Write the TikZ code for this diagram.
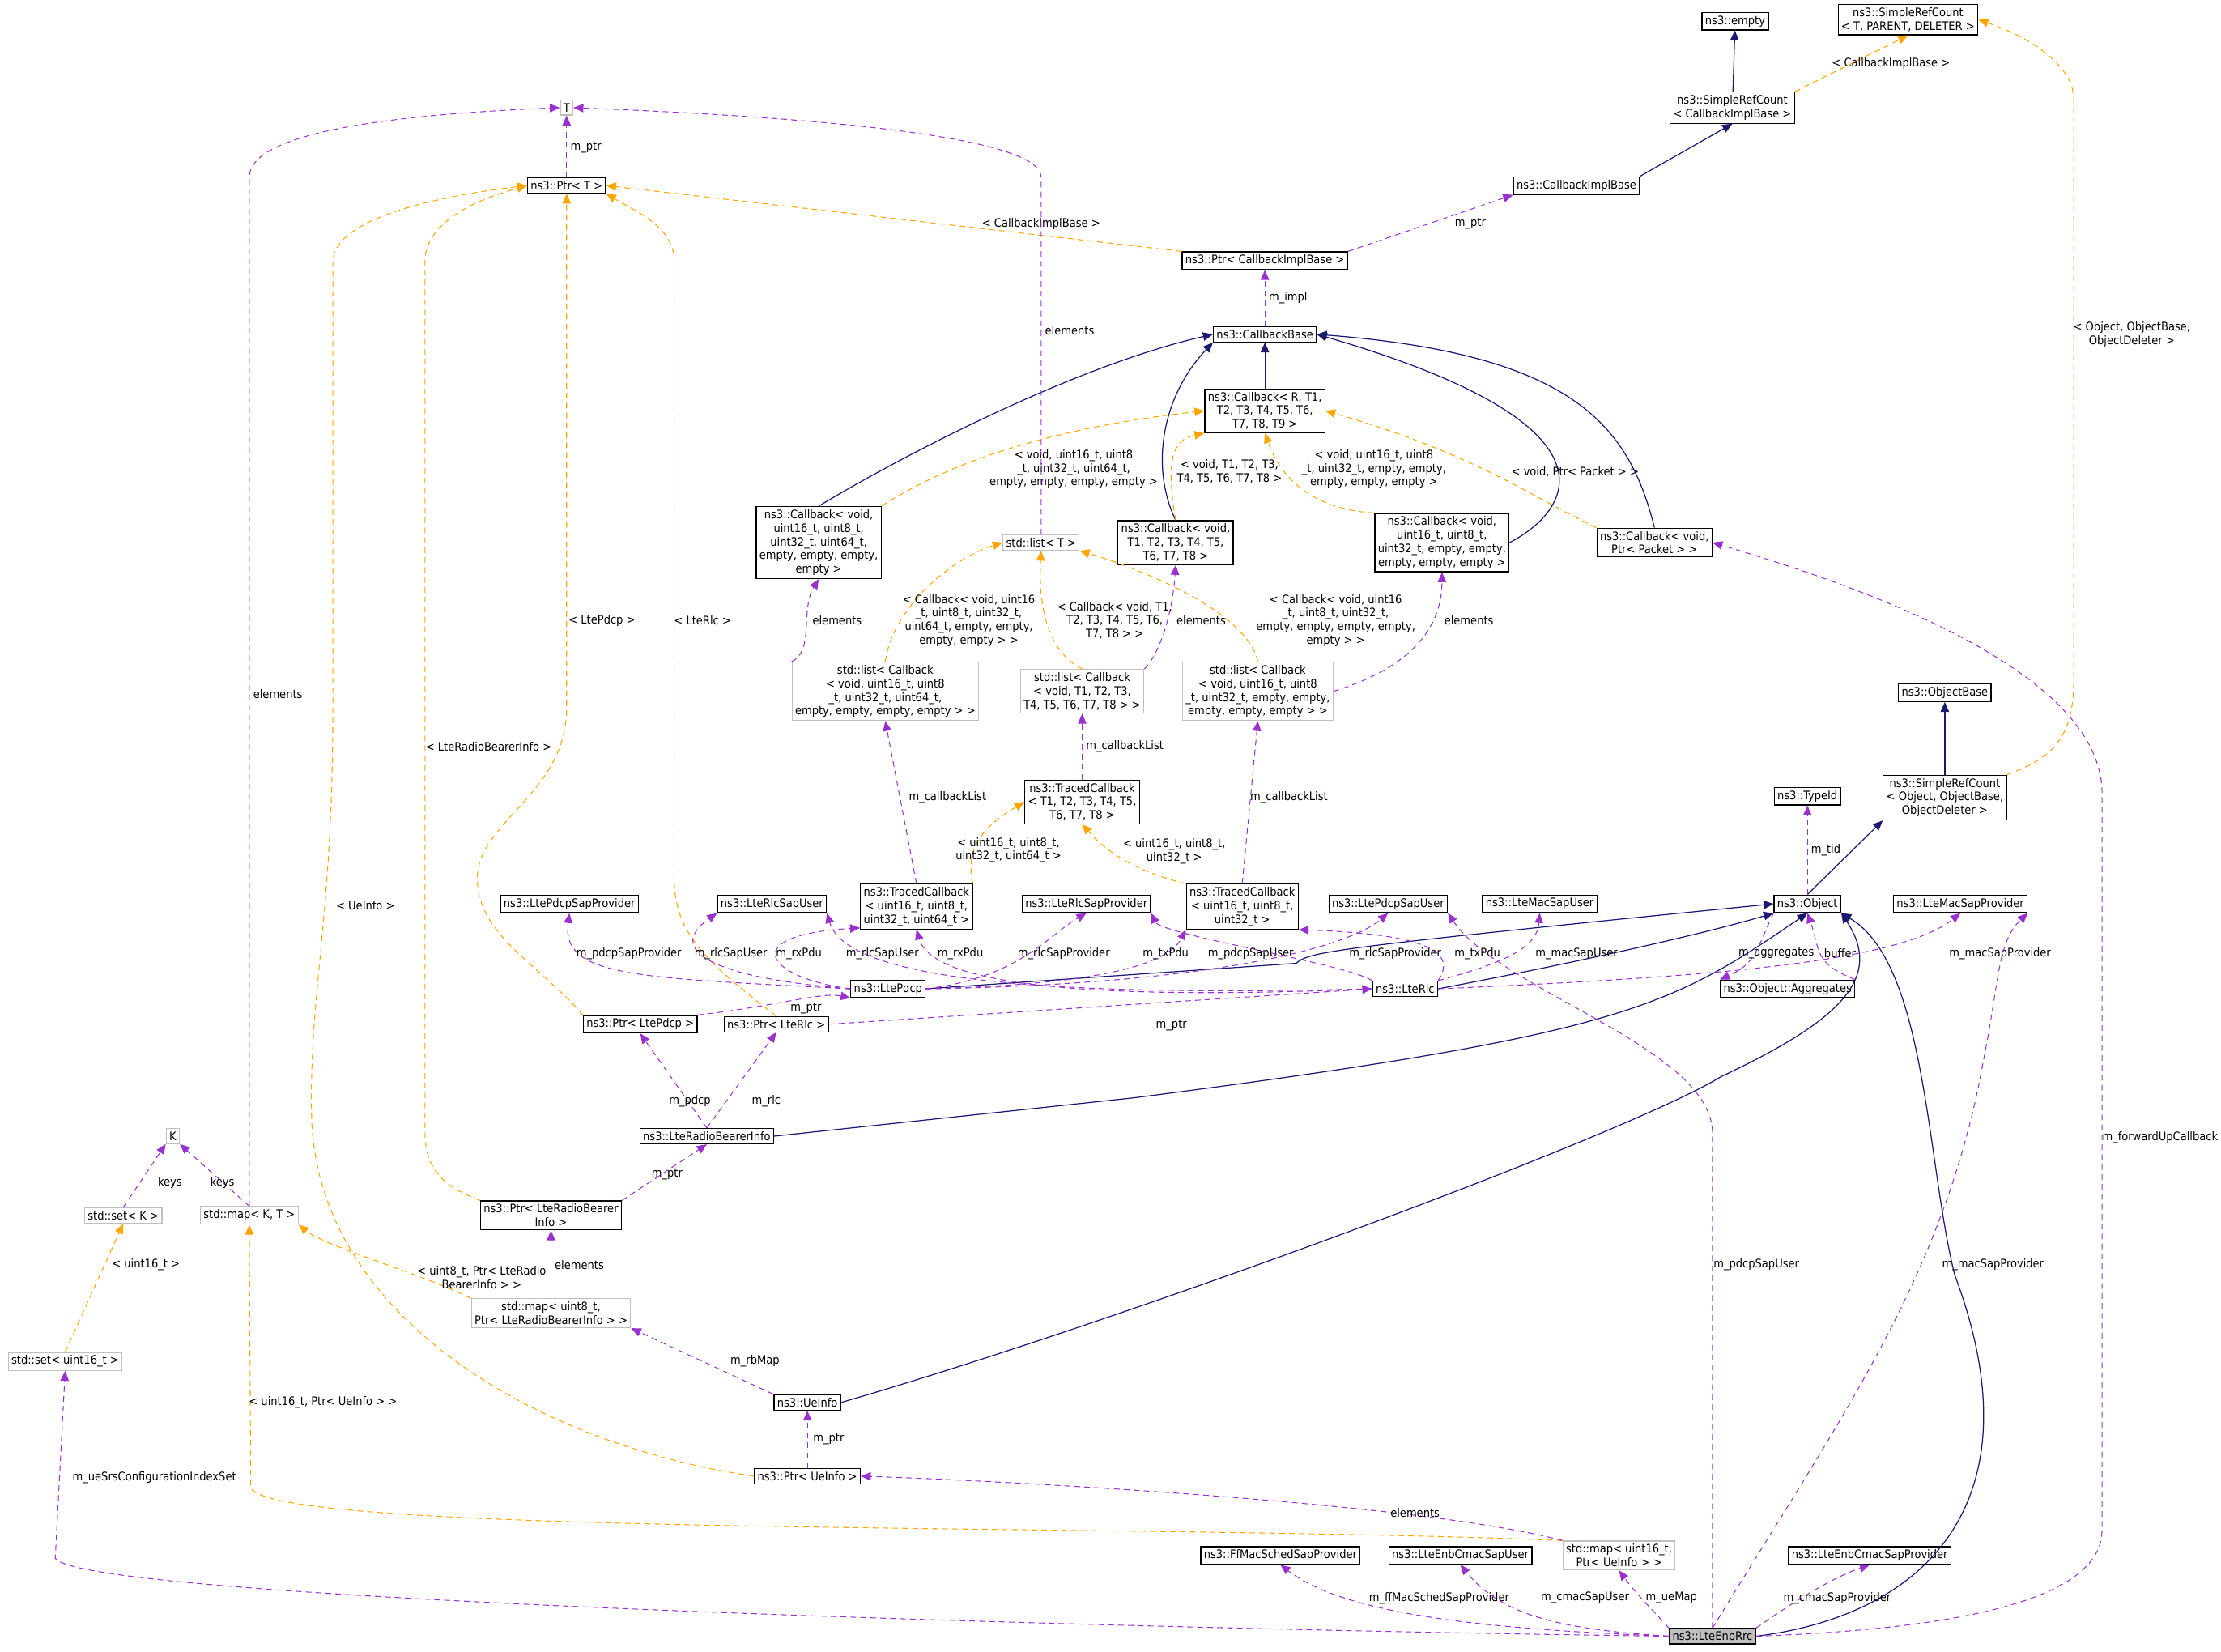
\documentclass[tikz,border=0pt]{standalone}
\usepackage{fontspec}
\setmainfont{DejaVu Sans Condensed}
\usetikzlibrary{arrows.meta}
\definecolor{navy}{RGB}{25,25,112}
\definecolor{ora}{RGB}{255,165,0}
\definecolor{pur}{RGB}{153,50,204}
\definecolor{gb}{RGB}{191,191,191}
\begin{document}
\begin{tikzpicture}[x=1pt,y=-1pt, font=\fontsize{8.3}{9.6}\selectfont,
 box/.style={draw=black, fill=white, inner sep=2.2pt, align=center, line width=0.7pt},
 gbox/.style={box, draw=gb},
 inh/.style={draw=navy, line width=0.7pt, -{Triangle[length=7pt,width=6pt]}},
 tpl/.style={draw=ora, dash pattern=on 4pt off 3pt, line width=0.6pt, -{Triangle[length=7pt,width=6pt]}},
 use/.style={draw=pur, dash pattern=on 4pt off 3pt, line width=0.6pt, -{Triangle[length=7pt,width=6pt]}},
 lbl/.style={inner sep=0.5pt, align=center}]
\useasboundingbox (0,0) rectangle (1568,1166);
% nodes
\node[gbox] (T) at (400,76) {T};
\node[box] (ptrT) at (400,131) {ns3::Ptr< T >};
\node[box] (empty) at (1225,15) {ns3::empty};
\node[box] (srcT) at (1347,14) {ns3::SimpleRefCount\\< T, PARENT, DELETER >};
\node[box] (srcCIB) at (1223,76) {ns3::SimpleRefCount\\< CallbackImplBase >};
\node[box] (cib) at (1113,131) {ns3::CallbackImplBase};
\node[box] (ptrCIB) at (893,184) {ns3::Ptr< CallbackImplBase >};
\node[box] (cbBase) at (893,236) {ns3::CallbackBase};
\node[box] (cbR) at (893,290) {ns3::Callback< R, T1,\\T2, T3, T4, T5, T6,\\T7, T8, T9 >};
\node[box] (cb64) at (578,383) {ns3::Callback< void,\\uint16\_t, uint8\_t,\\uint32\_t, uint64\_t,\\empty, empty, empty,\\empty >};
\node[gbox] (listT) at (735,383) {std::list< T >};
\node[box] (cbT1) at (830,383) {ns3::Callback< void,\\T1, T2, T3, T4, T5,\\T6, T7, T8 >};
\node[box] (cb32) at (1018,383) {ns3::Callback< void,\\uint16\_t, uint8\_t,\\uint32\_t, empty, empty,\\empty, empty, empty >};
\node[box] (cbPkt) at (1168,383) {ns3::Callback< void,\\Ptr< Packet > >};
\node[gbox] (list64) at (625,488) {std::list< Callback\\< void, uint16\_t, uint8\\\_t, uint32\_t, uint64\_t,\\empty, empty, empty, empty > >};
\node[gbox] (listT1) at (764,488) {std::list< Callback\\< void, T1, T2, T3,\\T4, T5, T6, T7, T8 > >};
\node[gbox] (list32) at (888,488) {std::list< Callback\\< void, uint16\_t, uint8\\\_t, uint32\_t, empty, empty,\\empty, empty, empty > >};
\node[box] (tcT) at (764,566) {ns3::TracedCallback\\< T1, T2, T3, T4, T5,\\T6, T7, T8 >};
\node[box] (tc64) at (647,640) {ns3::TracedCallback\\< uint16\_t, uint8\_t,\\uint32\_t, uint64\_t >};
\node[box] (tc32) at (877,640) {ns3::TracedCallback\\< uint16\_t, uint8\_t,\\uint32\_t >};
\node[box] (pdcpSP) at (402,638) {ns3::LtePdcpSapProvider};
\node[box] (rlcSU) at (545,638) {ns3::LteRlcSapUser};
\node[box] (rlcSP) at (767,638) {ns3::LteRlcSapProvider};
\node[box] (pdcpSU) at (980,638) {ns3::LtePdcpSapUser};
\node[box] (macSU) at (1087,638) {ns3::LteMacSapUser};
\node[box] (obj) at (1276,638) {ns3::Object};
\node[box] (macSP) at (1384,638) {ns3::LteMacSapProvider};
\node[box] (typeid) at (1276,562) {ns3::TypeId};
\node[box] (objBase) at (1373,489) {ns3::ObjectBase};
\node[box] (srcObj) at (1373,563) {ns3::SimpleRefCount\\< Object, ObjectBase,\\ObjectDeleter >};
\node[box] (pdcp) at (627,698) {ns3::LtePdcp};
\node[box] (rlc) at (992,698) {ns3::LteRlc};
\node[box] (aggr) at (1262,698) {ns3::Object::Aggregates};
\node[box] (ptrPdcp) at (452,723) {ns3::Ptr< LtePdcp >};
\node[box] (ptrRlc) at (548,723) {ns3::Ptr< LteRlc >};
\node[box] (rbi) at (499,802) {ns3::LteRadioBearerInfo};
\node[box] (ptrRbi) at (389,858) {ns3::Ptr< LteRadioBearer\\Info >};
\node[gbox] (K) at (122,802) {K};
\node[gbox] (setK) at (87,858) {std::set< K >};
\node[gbox] (mapKT) at (176,858) {std::map< K, T >};
\node[gbox] (map8) at (389,927) {std::map< uint8\_t,\\Ptr< LteRadioBearerInfo > >};
\node[gbox] (set16) at (46,961) {std::set< uint16\_t >};
\node[box] (ueinfo) at (570,990) {ns3::UeInfo};
\node[box] (ptrUe) at (570,1042) {ns3::Ptr< UeInfo >};
\node[gbox] (map16) at (1143,1098) {std::map< uint16\_t,\\Ptr< UeInfo > >};
\node[box] (ffmac) at (904,1098) {ns3::FfMacSchedSapProvider};
\node[box] (cmacU) at (1031,1098) {ns3::LteEnbCmacSapUser};
\node[box] (cmacP) at (1320,1098) {ns3::LteEnbCmacSapProvider};
\node[box, fill=gb] (rrc) at (1209,1155) {ns3::LteEnbRrc};

% inheritance
\draw[inh] (srcCIB) -- (empty);
\draw[inh] (cib.north east) -- (srcCIB.south);
\draw[inh] (cbR) -- (cbBase);
\draw[inh] (cb64.north) .. controls (640,320) and (760,258) .. (cbBase.west);
\draw[inh] (cbT1.north) .. controls (812,330) and (820,280) .. (cbBase.south west);
\draw[inh] (cb32.east) .. controls (1110,360) and (1150,300) .. (cbBase.east);
\draw[inh] (cbPkt.north) .. controls (1150,300) and (1110,250) .. (cbBase.east);
\draw[inh] (srcObj) -- (objBase);
\draw[inh] (obj.north) -- (srcObj.south west);
\draw[inh] (pdcp.east) -- (915,680) .. controls (925,672) and (930,670) .. (obj.west);
\draw[inh] (rlc.east) .. controls (1110,680) and (1200,660) .. (obj.south west);
\draw[inh] (rbi.east) -- (800,775) .. controls (1150,730) and (1180,710) .. (obj.south);
\draw[inh] (ueinfo.east) .. controls (800,930) and (1150,800) .. (1215,760) .. controls (1300,720) and (1330,690) .. (obj.south east);
\draw[inh] (rrc.east) .. controls (1360,1140) and (1440,1060) .. (1380,900) .. controls (1360,820) and (1360,680) .. (obj.south east);

% templates
\draw[tpl] (srcCIB.north east) -- (srcT.south) node[lbl] at (1335,45) {< CallbackImplBase >};
\draw[tpl] (srcObj.north east) .. controls (1450,535) and (1464,520) .. (1464,480) -- (1464,70) .. controls (1464,45) and (1430,25) .. (srcT.east) node[lbl] at (1505,236) {< Object, ObjectBase,\\ObjectDeleter >};
\draw[tpl] (ptrCIB.north west) -- (ptrT.east) node[lbl] at (735,158) {< CallbackImplBase >};
\draw[tpl] (cb64.north east) .. controls (680,320) and (760,300) .. (cbR.west) node[lbl] at (758,331) {< void, uint16\_t, uint8\\\_t, uint32\_t, uint64\_t,\\empty, empty, empty, empty >};
\draw[tpl] (cbT1.north) .. controls (822,320) and (830,310) .. (cbR.south west) node[lbl] at (868,333) {< void, T1, T2, T3,\\T4, T5, T6, T7, T8 >};
\draw[tpl] (cb32.north west) .. controls (930,360) and (905,340) .. (cbR.south) node[lbl] at (970,331) {< void, uint16\_t, uint8\\\_t, uint32\_t, empty, empty,\\empty, empty, empty >};
\draw[tpl] (cbPkt.north west) .. controls (1080,350) and (1040,320) .. (cbR.east) node[lbl] at (1112,333) {< void, Ptr< Packet > >};
\draw[tpl] (list64.north) .. controls (630,430) and (670,395) .. (listT.west) node[lbl] at (684,438) {< Callback< void, uint16\\\_t, uint8\_t, uint32\_t,\\uint64\_t, empty, empty,\\empty, empty > >};
\draw[tpl] (listT1.north) .. controls (740,460) and (733,430) .. (listT.south) node[lbl] at (787,438) {< Callback< void, T1,\\T2, T3, T4, T5, T6,\\T7, T8 > >};
\draw[tpl] (list32.north) .. controls (880,430) and (800,400) .. (listT.south east) node[lbl] at (943,438) {< Callback< void, uint16\\\_t, uint8\_t, uint32\_t,\\empty, empty, empty, empty,\\empty > >};
\draw[tpl] (tc64.north east) .. controls (680,595) and (700,580) .. (tcT.west) node[lbl] at (712,600) {< uint16\_t, uint8\_t,\\uint32\_t, uint64\_t >};
\draw[tpl] (tc32.north west) .. controls (800,615) and (780,600) .. (tcT.south) node[lbl] at (829,601) {< uint16\_t, uint8\_t,\\uint32\_t >};
\draw[tpl] (ptrPdcp.north west) .. controls (380,680) and (337,660) .. (337,620) .. controls (337,580) and (400,560) .. (400,500) -- (ptrT.south) node[lbl] at (425,438) {< LtePdcp >};
\draw[tpl] (ptrRlc.north) .. controls (500,680) and (476,660) .. (476,620) -- (476,185) .. controls (476,160) and (450,150) .. (ptrT.south east) node[lbl] at (496,438) {< LteRlc >};
\draw[tpl] (ptrRbi.north west) .. controls (320,840) and (300,830) .. (300,800) -- (300,185) .. controls (300,155) and (340,140) .. (ptrT.west) node[lbl] at (345,527) {< LteRadioBearerInfo >};
\draw[tpl] (ptrUe.west) .. controls (380,1020) and (225,930) .. (220,790) .. controls (218,700) and (235,650) .. (235,500) -- (235,185) .. controls (235,150) and (330,136) .. (ptrT.west) node[lbl] at (258,639) {< UeInfo >};
\draw[tpl] (set16.north) -- (setK.south) node[lbl] at (103,893) {< uint16\_t >};
\draw[tpl] (map8.north west) .. controls (300,900) and (230,880) .. (mapKT.south east) node[lbl] at (340,902) {< uint8\_t, Ptr< LteRadio\\BearerInfo > >};
\draw[tpl] (map16.north west) .. controls (800,1075) and (190,1085) .. (177,1050) -- (mapKT.south) node[lbl] at (228,990) {< uint16\_t, Ptr< UeInfo > >};

% usage
\draw[use] (ptrT) -- (T) node[lbl, anchor=west] at (402,104) {m\_ptr};
\draw[use] (listT.north) -- (735,125) .. controls (735,95) and (560,82) .. (T.east) node[lbl, anchor=west] at (737,233) {elements};
\draw[use] (mapKT.north) -- (176,125) .. controls (176,90) and (300,80) .. (T.west) node[lbl, anchor=west] at (178,490) {elements};
\draw[use] (ptrCIB.north east) -- (cib.south west) node[lbl] at (1038,158) {m\_ptr};
\draw[use] (cbBase) -- (ptrCIB) node[lbl, anchor=west] at (895,210) {m\_impl};
\draw[use] (list64.north west) .. controls (575,460) and (565,430) .. (cb64.south) node[lbl] at (591,438) {elements};
\draw[use] (listT1.north east) .. controls (820,460) and (828,430) .. (cbT1.south) node[lbl] at (848,438) {elements};
\draw[use] (list32.east) .. controls (1000,470) and (1018,440) .. (cb32.south) node[lbl] at (1037,438) {elements};
\draw[use] (tcT) -- (listT1) node[lbl, anchor=west] at (766,527) {m\_callbackList};
\draw[use] (tc64.north) -- (list64.south) node[lbl] at (669,563) {m\_callbackList};
\draw[use] (tc32.north) -- (list32.south) node[lbl] at (910,563) {m\_callbackList};
% LtePdcp
\draw[use] (pdcp.west) .. controls (450,690) and (396,690) .. (pdcpSP.south) node[lbl] at (444,673) {m\_pdcpSapProvider};
\draw[use] (pdcp.west) .. controls (500,690) and (470,670) .. (rlcSU.south west) node[lbl] at (516,673) {m\_rlcSapUser};
\draw[use] (pdcp.west) .. controls (540,690) and (520,660) .. (tc64.west |- 0,655) node[lbl] at (564,673) {m\_rxPdu};
\draw[use] (pdcp.east) .. controls (720,690) and (740,660) .. (rlcSP.south) node[lbl] at (751,673) {m\_rlcSapProvider};
\draw[use] (pdcp.east) .. controls (780,695) and (825,680) .. (tc32.south west) node[lbl] at (823,673) {m\_txPdu};
\draw[use] (pdcp.east) .. controls (850,695) and (950,670) .. (pdcpSU.south) node[lbl] at (883,673) {m\_pdcpSapUser};
% LteRlc
\draw[use] (rlc.west) .. controls (800,702) and (600,700) .. (rlcSU.south east) node[lbl] at (623,673) {m\_rlcSapUser};
\draw[use] (rlc.west) .. controls (800,705) and (660,700) .. (tc64.south) node[lbl] at (678,673) {m\_rxPdu};
\draw[use] (rlc.north west) .. controls (950,680) and (820,660) .. (rlcSP.south east) node[lbl] at (985,673) {m\_rlcSapProvider};
\draw[use] (rlc.north east) .. controls (1023,680) and (1030,660) .. (tc32.south east) node[lbl] at (1043,673) {m\_txPdu};
\draw[use] (rlc.north east) .. controls (1060,680) and (1085,670) .. (macSU.south) node[lbl] at (1113,673) {m\_macSapUser};
\draw[use] (rlc.east) .. controls (1200,690) and (1340,680) .. (macSP.south) node[lbl] at (1412,673) {m\_macSapProvider};
% Object
\draw[use] (obj) -- (typeid) node[lbl] at (1289,600) {m\_tid};
\draw[use] (obj.south west) .. controls (1240,670) and (1240,680) .. (aggr.north west) node[lbl] at (1254,673) {m\_aggregates};
\draw[use] (aggr.north east) .. controls (1280,680) and (1285,670) .. (obj.south) node[lbl] at (1299,673) {buffer};
\draw[use] (ptrPdcp.north east) .. controls (550,710) and (580,700) .. (pdcp.south west) node[lbl] at (569,712) {m\_ptr};
\draw[use] (ptrRlc.east) -- (rlc.west) node[lbl] at (827,724) {m\_ptr};
\draw[use] (rbi.north) -- (ptrPdcp.south) node[lbl] at (487,777) {m\_pdcp};
\draw[use] (rbi.north) -- (ptrRlc.south) node[lbl] at (541,777) {m\_rlc};
\draw[use] (ptrRbi.north east) -- (rbi.south) node[lbl] at (471,829) {m\_ptr};
\draw[use] (setK.north) -- (K.south west) node[lbl] at (120,835) {keys};
\draw[use] (mapKT.north) -- (K.south east) node[lbl] at (157,835) {keys};
\draw[use] (map8) -- (ptrRbi) node[lbl] at (409,893) {elements};
\draw[use] (ueinfo.north west) -- (map8.south east) node[lbl] at (533,961) {m\_rbMap};
\draw[use] (ptrUe) -- (ueinfo) node[lbl] at (585,1016) {m\_ptr};
\draw[use] (map16.north west) .. controls (1000,1060) and (700,1045) .. (ptrUe.east) node[lbl] at (999,1068) {elements};
% LteEnbRrc
\draw[use] (rrc.north) -- (1209,800) .. controls (1209,740) and (1060,700) .. (pdcpSU.south east) node[lbl] at (1240,893) {m\_pdcpSapUser};
\draw[use] (rrc.north) .. controls (1300,1000) and (1373,900) .. (1400,750) .. controls (1412,690) and (1410,665) .. (macSP.south east) node[lbl] at (1407,893) {m\_macSapProvider};
\draw[use] (rrc.east) .. controls (1380,1150) and (1484,1130) .. (1484,1080) -- (1484,560) .. controls (1484,470) and (1300,410) .. (cbPkt.east) node[lbl] at (1525,803) {m\_forwardUpCallback};
\draw[use] (rrc.west) .. controls (800,1150) and (60,1130) .. (39,1100) -- (set16.south) node[lbl] at (109,1043) {m\_ueSrsConfigurationIndexSet};
\draw[use] (rrc.west) .. controls (1050,1150) and (950,1140) .. (ffmac.south) node[lbl] at (1016,1128) {m\_ffMacSchedSapProvider};
\draw[use] (rrc.west) .. controls (1100,1150) and (1060,1140) .. (cmacU.south) node[lbl] at (1119,1128) {m\_cmacSapUser};
\draw[use] (rrc.north west) .. controls (1170,1140) and (1155,1125) .. (map16.south) node[lbl] at (1180,1128) {m\_ueMap};
\draw[use] (rrc.north east) .. controls (1260,1135) and (1290,1115) .. (cmacP.south) node[lbl] at (1297,1128) {m\_cmacSapProvider};
\end{tikzpicture}
\end{document}
